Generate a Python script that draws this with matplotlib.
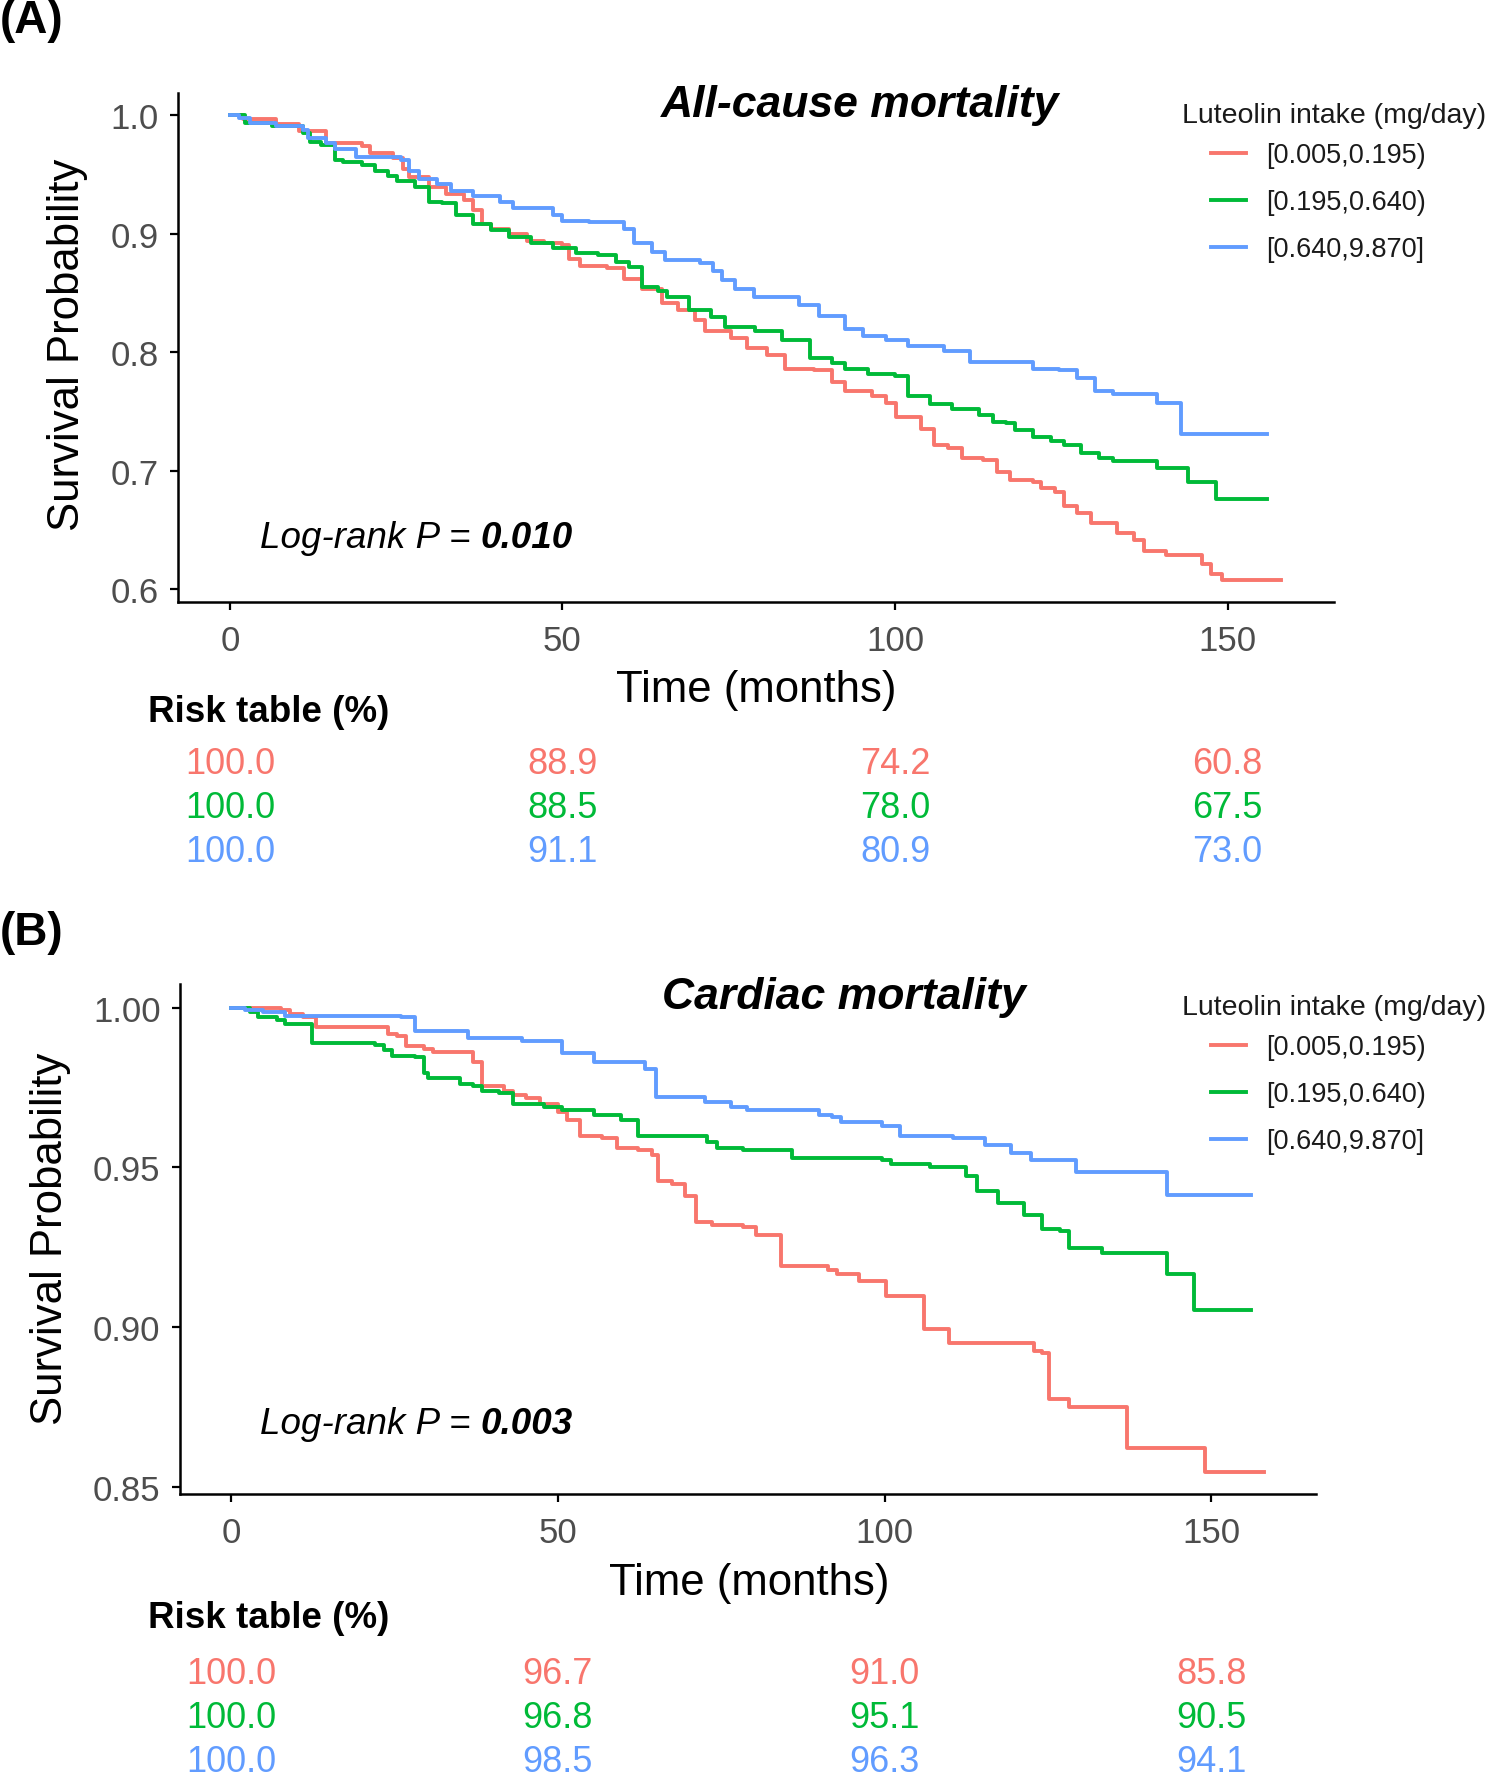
import matplotlib
matplotlib.use('Agg')
import matplotlib.pyplot as plt
from matplotlib.transforms import blended_transform_factory

plt.rcParams['font.family'] = ['Liberation Sans', 'DejaVu Sans']

groups = ['[0.005,0.195)', '[0.195,0.640)', '[0.640,9.870]']
colors = ['#F8766D', '#00BA38', '#619CFF']
risk_times = [0, 50, 100, 150]

# (A) all-cause mortality, survival curves
a_red_t = [0, 2, 7, 10.4, 14.4, 19.8, 21, 24.5, 26, 27, 29.9, 32.5, 35.2, 36.5, 37.9, 39.2, 41.9, 44.6, 47.3, 50,
           51, 52.6, 56.7, 59.3, 62, 65, 67.4, 70, 71.4, 75.4, 77.8, 80.8, 83.5, 87.8, 90.5, 92.5, 96.5, 98.6,
           100.2, 103.9, 105.9, 108, 110, 113.3, 115.3, 117.3, 120.7, 122, 124, 125.4, 127.4, 129.4, 133.4, 136,
           137.4, 140.7, 146.2, 147.5, 149.2, 158]
a_red_s = [1.0, 0.997, 0.993, 0.987, 0.977, 0.974, 0.968, 0.964, 0.955, 0.948, 0.940, 0.934, 0.929, 0.920, 0.908,
           0.904, 0.900, 0.894, 0.892, 0.891, 0.879, 0.873, 0.871, 0.862, 0.853, 0.842, 0.836, 0.827, 0.818, 0.812,
           0.804, 0.798, 0.786, 0.785, 0.775, 0.767, 0.763, 0.757, 0.745, 0.735, 0.722, 0.719, 0.711, 0.709, 0.699,
           0.692, 0.690, 0.685, 0.682, 0.670, 0.664, 0.656, 0.647, 0.641, 0.632, 0.629, 0.621, 0.613, 0.608, 0.608]
a_green_t = [0, 2.3, 6.4, 11, 12, 13.7, 15.8, 17, 19.8, 21.8, 23.8, 25.2, 27.8, 29.9, 31.9, 34, 36.5, 39.2, 41.9,
             45.3, 48.6, 52, 55.3, 58, 60, 62, 64.4, 65.7, 69, 72.4, 74.4, 79, 83, 87.2, 90.5, 92.5, 96, 100, 102,
             105.3, 108.6, 112.7, 114.7, 116.7, 118, 120.7, 123.4, 125.4, 128, 130.7, 132.7, 139.4, 144.1, 148.2, 156]
a_green_s = [1.0, 0.994, 0.991, 0.985, 0.978, 0.975, 0.962, 0.961, 0.958, 0.953, 0.949, 0.945, 0.940, 0.927, 0.926,
             0.916, 0.908, 0.903, 0.897, 0.892, 0.888, 0.884, 0.882, 0.876, 0.872, 0.855, 0.852, 0.847, 0.836, 0.830,
             0.821, 0.818, 0.810, 0.795, 0.791, 0.786, 0.782, 0.780, 0.763, 0.756, 0.752, 0.747, 0.741, 0.740, 0.734,
             0.728, 0.725, 0.722, 0.715, 0.711, 0.708, 0.702, 0.690, 0.676, 0.676]
a_blue_t = [0, 1.4, 3, 7, 11, 11.8, 14.4, 15.8, 19, 25.8, 27, 28.5, 31.2, 33.2, 36.5, 40.6, 42.6, 48.6, 50, 54,
            59.3, 60.7, 63.4, 65.4, 70.7, 72.7, 74, 76, 78.8, 85.5, 88.5, 92.5, 95.2, 98.6, 102, 107.3, 111.3, 120.7,
            124.7, 127.4, 130, 132.7, 139.4, 143, 156]
a_blue_s = [1.0, 0.998, 0.994, 0.991, 0.988, 0.981, 0.977, 0.972, 0.965, 0.962, 0.953, 0.946, 0.942, 0.936, 0.932,
            0.927, 0.922, 0.916, 0.911, 0.910, 0.904, 0.892, 0.885, 0.878, 0.875, 0.869, 0.861, 0.853, 0.847, 0.840,
            0.831, 0.820, 0.814, 0.810, 0.805, 0.801, 0.792, 0.786, 0.785, 0.778, 0.767, 0.765, 0.757, 0.731, 0.731]

# (B) cardiac mortality
b_red_t = [0, 7.7, 9, 11, 13, 22.7, 24, 25.4, 26.8, 29.5, 30.9, 35.7, 37, 38.4, 41.8, 43.2, 45.2, 47.3, 50, 51.4,
           53.4, 56.8, 59, 62.3, 64.4, 65.4, 67.4, 69.5, 71.2, 73.6, 78.4, 80.4, 84.2, 91.3, 92.7, 96.1, 100.2, 106,
           109.8, 122.8, 124.1, 125.2, 128.2, 137.1, 149, 158]
b_red_s = [1.0, 0.9994, 0.998, 0.997, 0.9938, 0.9938, 0.9916, 0.991, 0.988, 0.987, 0.986, 0.986, 0.983, 0.9754,
           0.974, 0.9727, 0.9717, 0.970, 0.9674, 0.9647, 0.9598, 0.9593, 0.956, 0.9555, 0.954, 0.9458, 0.9447,
           0.941, 0.933, 0.932, 0.9313, 0.929, 0.919, 0.918, 0.9167, 0.9146, 0.9097, 0.8995, 0.895, 0.8925, 0.892,
           0.8774, 0.875, 0.8623, 0.8548, 0.8548]
b_green_t = [0, 2.9, 4.2, 7, 8.3, 12.4, 22, 23.4, 24.7, 28.2, 29.5, 30.2, 35, 37, 38.4, 41, 43.2, 47.9, 50.7, 55.5,
             59.6, 62.3, 72.9, 74.3, 78.4, 85.9, 99.6, 101, 107, 112.5, 114.2, 117.3, 121.4, 124.1, 126.9, 128.2,
             133.3, 143.2, 147.3, 156]
b_green_s = [1.0, 0.9986, 0.997, 0.996, 0.9948, 0.9889, 0.9884, 0.9868, 0.985, 0.9846, 0.9797, 0.978, 0.976,
             0.9755, 0.974, 0.9733, 0.970, 0.969, 0.968, 0.9663, 0.9647, 0.9598, 0.958, 0.956, 0.9555, 0.9528,
             0.9523, 0.9512, 0.950, 0.9474, 0.9426, 0.9388, 0.935, 0.9307, 0.930, 0.9248, 0.9232, 0.9167, 0.9054,
             0.9054]
b_blue_t = [0, 2.2, 4.9, 8.3, 26, 28.1, 36.3, 44.5, 50.7, 55.5, 63.3, 65, 72.5, 76.5, 79, 90, 92, 93.4, 99.6, 102.3,
            110.5, 115.3, 119.3, 122.4, 129.3, 143.2, 156]
b_blue_s = [1.0, 0.9992, 0.9986, 0.9975, 0.997, 0.9927, 0.9905, 0.9895, 0.9857, 0.983, 0.9808, 0.972, 0.9706,
            0.9688, 0.9679, 0.9663, 0.9657, 0.9641, 0.963, 0.9598, 0.9593, 0.9571, 0.9544, 0.9523, 0.9485, 0.9415,
            0.9415]

# risk table (%) at 0/50/100/150 months
a_risk_red = [100.0, 88.9, 74.2, 60.8]
a_risk_green = [100.0, 88.5, 78.0, 67.5]
a_risk_blue = [100.0, 91.1, 80.9, 73.0]
b_risk_red = [100.0, 96.7, 91.0, 85.8]
b_risk_green = [100.0, 96.8, 95.1, 90.5]
b_risk_blue = [100.0, 98.5, 96.3, 94.1]

W, H = 1489, 1774
fig = plt.figure(figsize=(W / 100, H / 100), dpi=100)


def fx(x):
    return x / W


def fy(y):
    return 1 - y / H


def panel(box, curves, ylim, yticks, yfmt, title, title_xy, pval, p_y, ylab_xy, xlab_xy,
          risk_rows, risk_title_y, risk_ys, leg_title_y, letter, letter_y):
    l, t, r, b = box
    ax = fig.add_axes([fx(l), fy(b), (r - l) / W, (b - t) / H])
    lines = []
    for (tt, ss), c in zip(curves, colors):
        ln, = ax.step(tt, ss, where='post', color=c, lw=2.8)
        lines.append(ln)
    ax.set_xlim(-7.8, 166)
    ax.set_ylim(*ylim)
    ax.set_xticks(risk_times)
    ax.set_yticks(yticks)
    ax.set_yticklabels([yfmt.format(v) for v in yticks])
    for s in ['top', 'right']:
        ax.spines[s].set_visible(False)
    for s in ['left', 'bottom']:
        ax.spines[s].set_linewidth(1.8)
    ax.tick_params(labelsize=25, labelcolor='#4D4D4D', length=6, width=1.6, pad=8)
    ax.tick_params(axis='x', pad=10)

    fig.text(fx(title_xy[0]), fy(title_xy[1]), title, fontsize=32, fontweight='bold', style='italic',
             ha='center', va='center')
    t1 = fig.text(fx(260), fy(p_y), 'Log-rank P =', fontsize=26.5, style='italic', va='center')
    ax.annotate(pval, xy=(1, 0.5), xycoords=t1, xytext=(7, 0), textcoords='offset points',
                fontsize=26.5, style='italic', fontweight='bold', va='center')
    fig.text(fx(ylab_xy[0]), fy(ylab_xy[1]), 'Survival Probability', fontsize=31.5, rotation=90,
             ha='center', va='center')
    fig.text(fx(xlab_xy[0]), fy(xlab_xy[1]), 'Time (months)', fontsize=31.5, ha='center', va='center')

    # legend: title placed by hand, keys indented under it
    fig.text(fx(1182), fy(leg_title_y), 'Luteolin intake (mg/day)', fontsize=20.5, color='#1A1A1A',
             va='center', ha='left')
    leg = fig.legend(lines, groups, loc='upper left',
                     bbox_to_anchor=(fx(1211), fy(leg_title_y + 27)), frameon=False, fontsize=19.5,
                     handlelength=1.3, handletextpad=0.72, labelspacing=0.78,
                     borderpad=0, borderaxespad=0)
    for txt in leg.get_texts():
        txt.set_color('#1A1A1A')

    fig.text(fx(148), fy(risk_title_y), 'Risk table (%)', fontsize=26.5, fontweight='bold', va='center')
    tr = blended_transform_factory(ax.transData, fig.transFigure)
    for row, c, yy in zip(risk_rows, colors, risk_ys):
        for tm, v in zip(risk_times, row):
            ax.text(tm, fy(yy), '{:.1f}'.format(v), transform=tr, color=c, fontsize=26,
                    ha='center', va='center', clip_on=False)
    fig.text(0, fy(letter_y), letter, fontsize=33, fontweight='bold', va='center', ha='left')
    return ax


panel((178, 94, 1334, 603),
      [(a_red_t, a_red_s), (a_green_t, a_green_s), (a_blue_t, a_blue_s)],
      (0.589, 1.019), [0.6, 0.7, 0.8, 0.9, 1.0], '{:.1f}',
      'All-cause mortality', (860, 106), '0.010', 539, (68, 345), (756, 691),
      [a_risk_red, a_risk_green, a_risk_blue], 712, [765, 809, 853], 116, '(A)', 21)

panel((180, 985, 1316, 1495),
      [(b_red_t, b_red_s), (b_green_t, b_green_s), (b_blue_t, b_blue_s)],
      (0.8478, 1.0074), [0.85, 0.90, 0.95, 1.00], '{:.2f}',
      'Cardiac mortality', (844, 997), '0.003', 1424, (51, 1239), (749, 1583),
      [b_risk_red, b_risk_green, b_risk_blue], 1619, [1675, 1719, 1763], 1008, '(B)', 933)

fig.savefig('out.png', dpi=100)
